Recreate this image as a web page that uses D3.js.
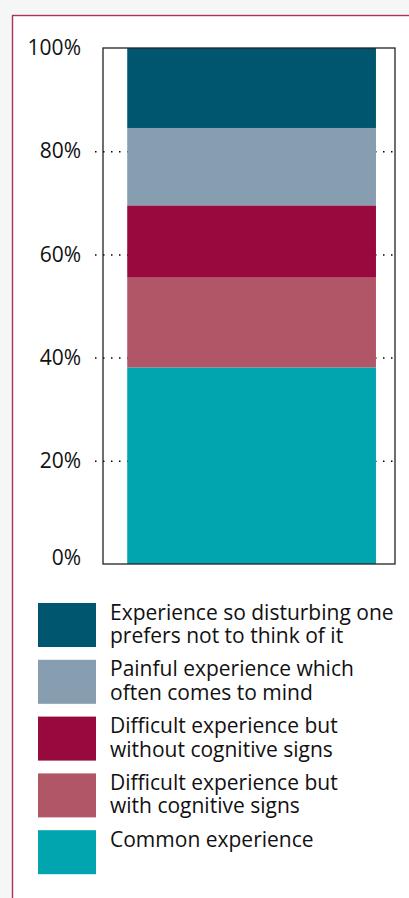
<!DOCTYPE html>
<html>
<head>
<meta charset="utf-8">
<script src="https://cdn.jsdelivr.net/npm/d3@7"></script>
<style>
  html, body { margin: 0; padding: 0; background: #f5f7f7; }
  svg { display: block; font-family: 'Open Sans', sans-serif; }
</style>
</head>
<body>
<div id="chart"></div>
<script>
// stacked from bottom to top
const categories = ['All'];
const seriesNames = [
    'Common experience',
    'Difficult experience but with cognitive signs',
    'Difficult experience but without cognitive signs',
    'Painful experience which often comes to mind',
    'Experience so disturbing one prefers not to think of it'
];
const seriesValues = [38.1, 17.4, 14.0, 15.0, 15.5];
const seriesColors = ['#00a5b0', '#b15667', '#98093e', '#879db0', '#00566e'];
const legendLines = [
    ['Common experience'],
    ['Difficult experience but', 'with cognitive signs'],
    ['Difficult experience but', 'without cognitive signs'],
    ['Painful experience which', 'often comes to mind'],
    ['Experience so disturbing one', 'prefers not to think of it']
];
const tickValues = [0, 20, 40, 60, 80, 100];

const width = 409, height = 898;
const plot = {left: 103, right: 395, top: 48, bottom: 564};

const svg = d3.select('#chart').append('svg')
    .attr('width', width)
    .attr('height', height);

// white panel with crimson frame
svg.append('rect')
    .attr('x', 12.5).attr('y', 15.5)
    .attr('width', 420).attr('height', 900)
    .attr('fill', '#fff')
    .attr('stroke', '#a83262')
    .attr('stroke-width', 1.4);

const y = d3.scaleLinear().domain([0, 100]).range([plot.bottom, plot.top]);
const x = d3.scaleBand().domain(categories).range([plot.left, plot.right])
    .padding(0.08).align(0.56);

const row = {cat: categories[0]};
seriesNames.forEach((s, i) => row[s] = seriesValues[i]);
const stacked = d3.stack().keys(seriesNames)([row]);

const axis = svg.append('g')
    .attr('transform', 'translate(95,0)')
    .call(d3.axisLeft(y).tickValues(tickValues)
        .tickFormat(d => d + '%')
        .tickSizeInner(-(plot.right - 95))
        .tickSizeOuter(0)
        .tickPadding(14));
axis.select('.domain').remove();
axis.selectAll('.tick line')
    .attr('stroke', '#000')
    .attr('stroke-width', 1.5)
    .attr('stroke-dasharray', '1.5,6.5')
    .attr('display', d => (d === 0 || d === 100) ? 'none' : null);
axis.selectAll('.tick text')
    .attr('fill', '#111')
    .attr('dy', d => d === 0 ? '-0.0em' : '0.32em')
    .style('font-size', '21px')
    .style('font-family', "'Open Sans', sans-serif");

svg.append('g').selectAll('rect')
    .data(stacked)
    .join('rect')
    .attr('x', x(categories[0]))
    .attr('width', x.bandwidth())
    .attr('y', d => y(d[0][1]))
    .attr('height', d => y(d[0][0]) - y(d[0][1]))
    .attr('fill', (d, i) => seriesColors[i]);

svg.append('rect')
    .attr('x', plot.left).attr('y', plot.top)
    .attr('width', plot.right - plot.left)
    .attr('height', plot.bottom - plot.top)
    .attr('fill', 'none')
    .attr('stroke', '#222')
    .attr('stroke-width', 1.3);

// legend, top item first
const legend = svg.append('g');
const order = d3.range(seriesNames.length).reverse();
order.forEach((si, k) => {
    const top = 603 + k * 56.8;
    legend.append('rect')
        .attr('x', 38).attr('y', top)
        .attr('width', 58).attr('height', 44)
        .attr('fill', seriesColors[si]);
    const t = legend.append('text')
        .attr('x', 110).attr('y', top + 16.5)
        .attr('fill', '#111')
        .style('font-size', '21px');
    legendLines[si].forEach((line, j) => {
        t.append('tspan').attr('x', 110).attr('dy', j === 0 ? 0 : 23.5).text(line);
    });
});
</script>
</body>
</html>
